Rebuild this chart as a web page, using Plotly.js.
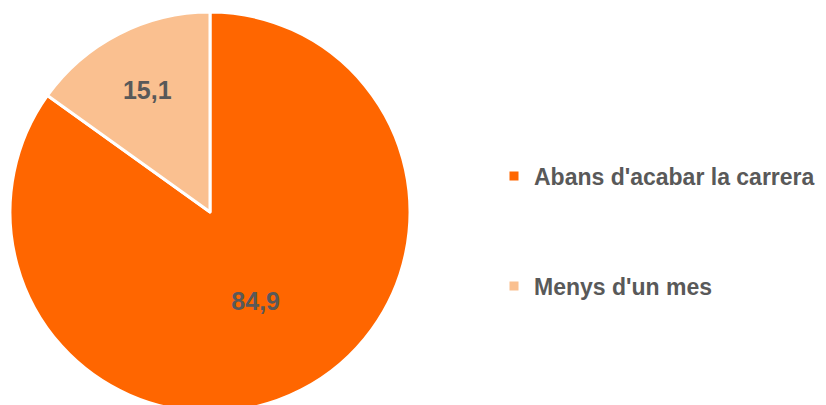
<!DOCTYPE html>
<html>
<head>
<meta charset="utf-8">
<script src="https://cdn.plot.ly/plotly-3.0.1.min.js"></script>
<style>
html, body { margin: 0; padding: 0; overflow: hidden; background: #fff; }
#chart { width: 826px; height: 412px; }
</style>
</head>
<body>
<div id="chart"></div>
<script>
const categories = ["Abans d'acabar la carrera", "Menys d'un mes"];
const values = [84.9, 15.1];
const colors = ["#FF6600", "#FAC090"];

const W = 826, H = 412;
const textColor = "#595959";
const fontFamily = "'Liberation Sans', Arial, sans-serif";

const pie = {
  type: "pie",
  values: values,
  labels: categories,
  sort: false,
  direction: "clockwise",
  rotation: 0,
  marker: { colors: colors, line: { color: "#FFFFFF", width: 3 } },
  texttemplate: "%{value:.1f}",
  textposition: "inside",
  insidetextorientation: "horizontal",
  textfont: { family: fontFamily, size: 25, color: textColor, weight: "bold" },
  domain: { x: [10 / W, 410 / W], y: [0, 400 / H] },
  showlegend: false,
  hoverinfo: "none"
};

const legendTraces = categories.map((c, i) => ({
  type: "scatter",
  mode: "markers",
  x: [null],
  y: [null],
  name: c,
  marker: { symbol: "square", size: 9, color: colors[i] },
  legend: i === 0 ? "legend" : "legend2",
  showlegend: true,
  hoverinfo: "none"
}));

const legendFont = { family: fontFamily, size: 23, color: textColor, weight: "bold" };

const layout = {
  width: W,
  height: H,
  margin: { l: 0, r: 0, t: 0, b: 0, pad: 0 },
  paper_bgcolor: "#FFFFFF",
  plot_bgcolor: "#FFFFFF",
  separators: ",.",
  hovermode: false,
  xaxis: { visible: false },
  yaxis: { visible: false },
  legend: { x: 494 / W, xanchor: "left", y: 1 - 176 / H, yanchor: "middle", font: legendFont, bgcolor: "rgba(0,0,0,0)" },
  legend2: { x: 494 / W, xanchor: "left", y: 1 - 286 / H, yanchor: "middle", font: legendFont, bgcolor: "rgba(0,0,0,0)" }
};

Plotly.newPlot("chart", [pie].concat(legendTraces), layout, { displayModeBar: false, staticPlot: true });
</script>
</body>
</html>
